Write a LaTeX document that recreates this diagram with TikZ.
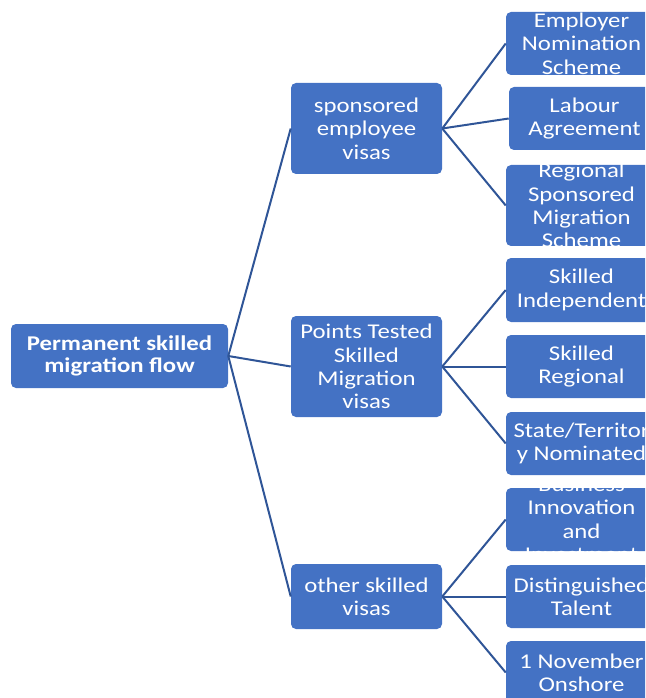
\documentclass[tikz,border=0pt]{standalone}
\usepackage{fontspec}
\setmainfont{Carlito}[FakeStretch=1.18]
\definecolor{boxblue}{HTML}{4472C4}
\definecolor{linkblue}{HTML}{2F5597}

\begin{document}
\begin{tikzpicture}[x=0.75pt, y=-0.75pt,
    box/.style={fill=boxblue, rounded corners=3.75pt, inner sep=0pt, minimum width=113.25pt},
    txt/.style={text=white, align=center, inner sep=0pt, font=\fontsize{15.75}{17.5}\selectfont},
    link/.style={draw=linkblue, line width=1.5pt}]

    \useasboundingbox (0,0) rectangle (645,698);
    \clip (0,0) rectangle (645,698);

    % root
    \node[box, minimum width=162.75pt, minimum height=48pt] (root) at (119.5,356) {};
    \node[txt, font=\bfseries\fontsize{15.75}{16.5}\selectfont] (root-t) at (root) {Permanent skilled\\migration flow};

    % first level
    \node[box, minimum height=68.25pt] (spons) at (366.5,128.5) {};
    \node[txt] (spons-t) at (spons) {sponsored\\employee\\visas};

    \node[box, minimum height=75.75pt] (points) at (366.5,366.5) {};
    \node[txt] (points-t) at (points) {Points Tested\\Skilled\\Migration\\visas};

    \node[box, minimum height=48.75pt] (other) at (366.5,596.5) {};
    \node[txt] (other-t) at (other) {other skilled\\visas};

    % second level
    \node[box, minimum height=47.25pt] (ens) at (581.5,43.5) {};
    \node[txt] (ens-t) at (ens) {Employer\\Nomination\\Scheme};

    \node[box, minimum height=47.25pt] (labour) at (584.5,118.5) {};
    \node[txt] (labour-t) at (labour) {Labour\\Agreement};

    \node[box, minimum height=60.75pt] (rsms) at (581.5,205.5) {};
    \node[txt] (rsms-t) at (rsms) {Regional\\Sponsored\\Migration\\Scheme};

    \node[box, minimum height=48pt] (indep) at (581.5,290) {};
    \node[txt] (indep-t) at (indep) {Skilled\\Independent};

    \node[box, minimum height=47.25pt] (sreg) at (581.5,366.5) {};
    \node[txt] (sreg-t) at (sreg) {Skilled\\Regional};

    \node[box, minimum height=47.25pt] (state) at (581.5,443.5) {};
    \node[txt] (state-t) at (state) {State/Territor\\y Nominated};

    \node[box, minimum height=47.25pt] (bus) at (581.5,519.5) {};
    \node[txt] (bus-t) at (bus) {Business\\Innovation\\and\\Investment};

    \node[box, minimum height=47.25pt] (dist) at (581.5,596.5) {};
    \node[txt] (dist-t) at (dist) {Distinguished\\Talent};

    \node[box, minimum height=47.25pt] (nov) at (581.5,672.5) {};
    \node[txt] (nov-t) at (nov) {1 November\\Onshore};

    % connectors
    \foreach \t in {spons,points,other}
        \draw[link] (root.east) -- (\t.west);
    \foreach \t in {ens,labour,rsms}
        \draw[link] (spons.east) -- (\t.west);
    \foreach \t in {indep,sreg,state}
        \draw[link] (points.east) -- (\t.west);
    \foreach \t in {bus,dist,nov}
        \draw[link] (other.east) -- (\t.west);
\end{tikzpicture}
\end{document}
